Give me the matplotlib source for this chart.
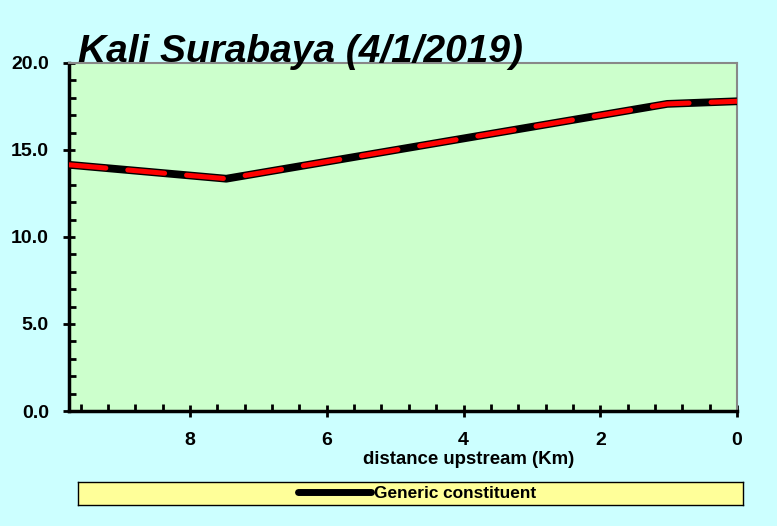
import matplotlib
matplotlib.use('Agg')
import matplotlib.pyplot as plt
from matplotlib.ticker import MultipleLocator, FormatStrFormatter

# data
distance = [9.77, 7.47, 1.02, 0.0]
conc = [14.15, 13.35, 17.65, 17.8]
series_name = 'Generic constituent'
title = 'Kali Surabaya (4/1/2019)'
xlabel = 'distance upstream (Km)'

W, H = 777, 526
fig = plt.figure(figsize=(W/100, H/100), dpi=100)
fig.patch.set_facecolor('#ccffff')

font = ['Liberation Sans', 'DejaVu Sans']

ax = fig.add_axes([69/W, 1-411/H, (737-69)/W, (411-63)/H])
ax.set_facecolor('#ccffcc')
ax.plot(distance, conc, color='black', lw=5.6, solid_capstyle='butt', zorder=3)
ax.plot(distance, conc, color='red', lw=3.6, dashes=(7.4, 4.4),
        dash_capstyle='round', zorder=4)
ax.set_xlim(9.77, 0)
ax.set_ylim(0, 20)

ax.xaxis.set_major_locator(MultipleLocator(2))
ax.xaxis.set_minor_locator(MultipleLocator(0.4))
ax.yaxis.set_major_locator(MultipleLocator(5))
ax.yaxis.set_minor_locator(MultipleLocator(1))
ax.yaxis.set_major_formatter(FormatStrFormatter('%.1f'))
ax.tick_params(which='major', direction='inout', length=9, width=2)
ax.tick_params(which='minor', direction='in', length=5, width=2)
ax.tick_params(axis='x', which='major', pad=10.5)
ax.tick_params(axis='y', which='major', pad=10)
for lab in ax.get_xticklabels() + ax.get_yticklabels():
    lab.set_family(font)
    lab.set_fontweight('bold')
    lab.set_fontsize(14)
for side in ['left', 'bottom']:
    ax.spines[side].set_linewidth(2.5)
    ax.spines[side].set_color('black')
for side in ['top', 'right']:
    ax.spines[side].set_linewidth(1.5)
    ax.spines[side].set_color('#888888')

fig.text(78/W, 1-62/H, title, fontsize=28, fontweight='bold', style='italic',
         family=font, va='baseline', ha='left')
fig.text(469/W, 1-460/H, xlabel, fontsize=13.4, fontweight='bold',
         family=font, va='center', ha='center')

# legend box
lax = fig.add_axes([78/W, 1-505/H, (743-78)/W, (505-482)/H])
lax.set_facecolor('#ffff99')
lax.set_xticks([])
lax.set_yticks([])
for s in lax.spines.values():
    s.set_linewidth(1)
    s.set_color('black')
h, = lax.plot([], [], color='black', lw=5, solid_capstyle='round')
lax.legend([h], [series_name], loc='center', bbox_to_anchor=(0.51, 0.5),
           frameon=False, handlelength=4.2, handletextpad=0.2, borderpad=0,
           prop={'family': font, 'weight': 'bold', 'size': 12.4})

fig.savefig('out.png', dpi=100, facecolor=fig.get_facecolor())
